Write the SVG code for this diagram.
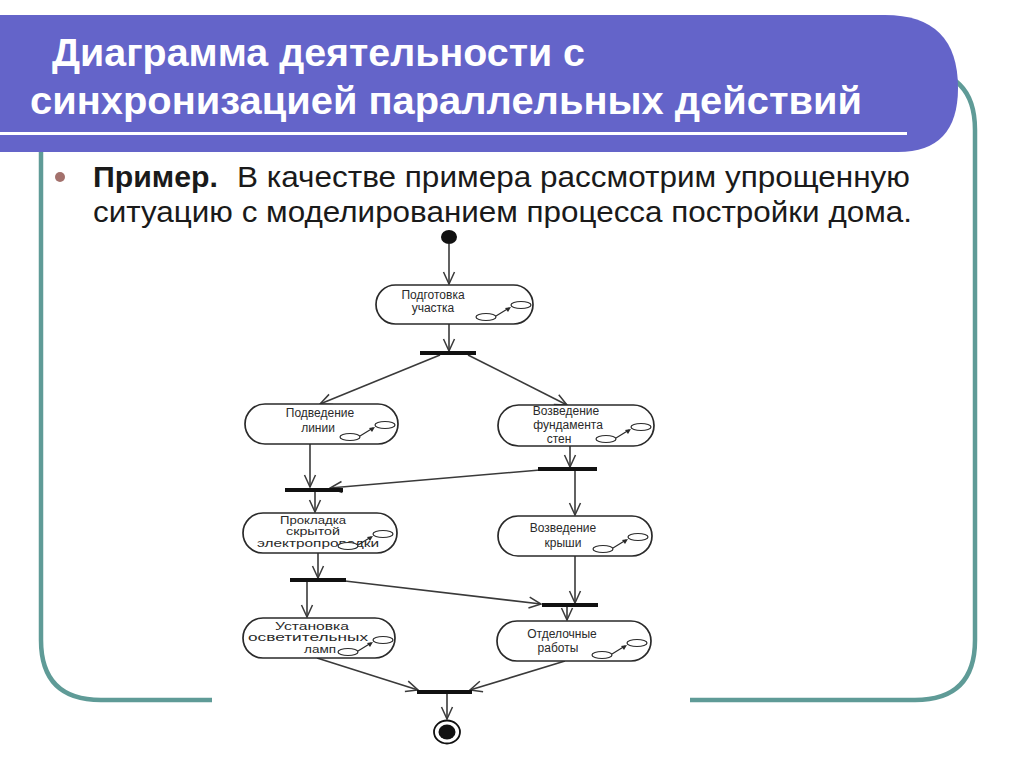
<svg xmlns="http://www.w3.org/2000/svg" xmlns:xlink="http://www.w3.org/1999/xlink" width="1024" height="767" viewBox="0 0 1024 767">
<style>
.title{font-family:"Liberation Sans Narrow","Liberation Sans",Arial,sans-serif;font-weight:bold;font-size:38px;fill:#ffffff}
.body{font-family:"Liberation Sans Narrow","Liberation Sans",Arial,sans-serif;font-size:30px;fill:#1a1a1a}
.pill{fill:#ffffff;stroke:#2a2a2a;stroke-width:1.7}
.lbl{font-family:"Liberation Sans",Arial,sans-serif;font-size:12px;fill:#2a2a2a;text-anchor:middle}
.sm{font-size:10px}
.bar{fill:#111111}
.edge{fill:none;stroke:#3a3a3a;stroke-width:1.6;marker-end:url(#open)}
.ico{fill:#ffffff;stroke:#2a2a2a;stroke-width:1.2}
</style>
<defs>
<marker id="open" viewBox="0 0 14 14" refX="13" refY="7" markerWidth="14" markerHeight="14" markerUnits="userSpaceOnUse" orient="auto">
<path d="M1,1.5 L13,7 L1,12.5" fill="none" stroke="#3a3a3a" stroke-width="1.5"/>
</marker>
<g id="icon">
<ellipse class="ico" cx="0" cy="0" rx="10" ry="3.5"/>
<ellipse class="ico" cx="-35" cy="12" rx="10" ry="3.5"/>
<path d="M-25,11 L-12,3" stroke="#2a2a2a" stroke-width="1.2"/>
<path d="M-10,2 L-16,3 L-13,7 Z" fill="#2a2a2a"/>
</g>
</defs>
<rect width="1024" height="767" fill="#ffffff"/>
<g id="frame" fill="none" stroke="#5f9b97" stroke-width="4.5">
<path d="M41,140 L41,640 Q41,700 101,700 L212,700"/>
<path d="M690,700 L915,700 Q975,700 975,640 L975,130 Q975,70 915,70"/>
</g>
<g id="header">
<path d="M0,15 L885,15 Q958,15 958,88 Q958,152 898,152 L0,152 Z" fill="#6464c9"/>
<rect x="0" y="132" width="907" height="3" fill="#ffffff"/>
<text class="title" x="52" y="66" textLength="533" lengthAdjust="spacingAndGlyphs">Диаграмма деятельности с</text>
<text class="title" x="30" y="114" textLength="832" lengthAdjust="spacingAndGlyphs">синхронизацией параллельных действий</text>
</g>
<g id="bullet-text">
<circle cx="60" cy="177" r="5" fill="#a3716c"/>
<text class="body" x="93" y="187" font-weight="bold" textLength="125" lengthAdjust="spacingAndGlyphs">Пример.</text>
<text class="body" x="237" y="187" textLength="673" lengthAdjust="spacingAndGlyphs">В качестве примера рассмотрим упрощенную</text>
<text class="body" x="93" y="222" textLength="819" lengthAdjust="spacingAndGlyphs">ситуацию с моделированием процесса постройки дома.</text>
</g>
<g id="connectors">
<path class="edge" d="M449,244 L449,284"/>
<path class="edge" d="M449,324 L449,351"/>
<path class="edge" d="M440,355 L320,404"/>
<path class="edge" d="M468,355 L567,405"/>
<path class="edge" d="M310,444 L310,487"/>
<path class="edge" d="M570,446 L570,467"/>
<path class="edge" d="M540,470 L330,488"/>
<path class="edge" d="M575,471 L575,515"/>
<path class="edge" d="M315,492 L315,512"/>
<path class="edge" d="M318,553 L318,578"/>
<path class="edge" d="M345,581 L541,604"/>
<path class="edge" d="M575,556 L575,603"/>
<path class="edge" d="M307,582 L307,617"/>
<path class="edge" d="M567,607 L567,620"/>
<path class="edge" d="M317,658 L418,690"/>
<path class="edge" d="M565,661 L470,690"/>
<path class="edge" d="M447,694 L447,719"/>
</g>
<g id="start"><ellipse cx="449" cy="237" rx="8" ry="7" fill="#111111"/></g>
<g id="bar1"><rect class="bar" x="420" y="351" width="56" height="4"/></g>
<g id="bar2"><rect class="bar" x="538" y="467" width="59" height="4"/></g>
<g id="bar3"><rect class="bar" x="285" y="488" width="58" height="4"/></g>
<g id="bar4"><rect class="bar" x="290" y="578" width="56" height="4"/></g>
<g id="bar5"><rect class="bar" x="542" y="603" width="56" height="4"/></g>
<g id="bar6"><rect class="bar" x="417" y="690" width="55" height="4"/></g>
<g id="n-podgotovka">
<rect class="pill" x="376" y="285" width="157" height="39" rx="19.5"/>
<text class="lbl" x="433" y="299">Подготовка</text>
<text class="lbl" x="433" y="312">участка</text>
<use xlink:href="#icon" x="521" y="305"/>
</g>
<g id="n-podvedenie">
<rect class="pill" x="245" y="404" width="153" height="40" rx="20"/>
<text class="lbl" x="320" y="417">Подведение</text>
<text class="lbl" x="318" y="432">линии</text>
<use xlink:href="#icon" x="385" y="425"/>
</g>
<g id="n-fundament">
<rect class="pill" x="498" y="405" width="156" height="41" rx="20.5"/>
<text class="lbl" x="566" y="415">Возведение</text>
<text class="lbl" x="568" y="429">фундамента</text>
<text class="lbl" x="559" y="443">стен</text>
<use xlink:href="#icon" x="641" y="427"/>
</g>
<g id="n-prokladka">
<rect class="pill" x="243" y="513" width="154" height="40" rx="20"/>
<text class="lbl sm" x="313" y="523.5" textLength="66" lengthAdjust="spacingAndGlyphs">Прокладка</text>
<text class="lbl sm" x="313" y="535" textLength="54" lengthAdjust="spacingAndGlyphs">скрытой</text>
<text class="lbl sm" x="318" y="546.5" textLength="122" lengthAdjust="spacingAndGlyphs">электропроводки</text>
<use xlink:href="#icon" x="383" y="534"/>
</g>
<g id="n-krysha">
<rect class="pill" x="498" y="516" width="154" height="40" rx="20"/>
<text class="lbl" x="563" y="532">Возведение</text>
<text class="lbl" x="563" y="547">крыши</text>
<use xlink:href="#icon" x="638" y="537"/>
</g>
<g id="n-lampy">
<rect class="pill" x="243" y="618" width="152" height="40" rx="20"/>
<text class="lbl sm" x="312" y="629.5" textLength="74" lengthAdjust="spacingAndGlyphs">Установка</text>
<text class="lbl sm" x="308" y="641" textLength="120" lengthAdjust="spacingAndGlyphs">осветительных</text>
<text class="lbl sm" x="320" y="652.5" textLength="32" lengthAdjust="spacingAndGlyphs">ламп</text>
<use xlink:href="#icon" x="383" y="640"/>
</g>
<g id="n-otdelka">
<rect class="pill" x="497" y="621" width="154" height="40" rx="20"/>
<text class="lbl" x="562" y="638">Отделочные</text>
<text class="lbl" x="558" y="652">работы</text>
<use xlink:href="#icon" x="637" y="643"/>
</g>
<g id="end">
<ellipse cx="447" cy="732" rx="13" ry="11.5" fill="#ffffff" stroke="#111111" stroke-width="1.8"/>
<ellipse cx="447" cy="732" rx="8.5" ry="7.5" fill="#111111"/>
</g>
</svg>
